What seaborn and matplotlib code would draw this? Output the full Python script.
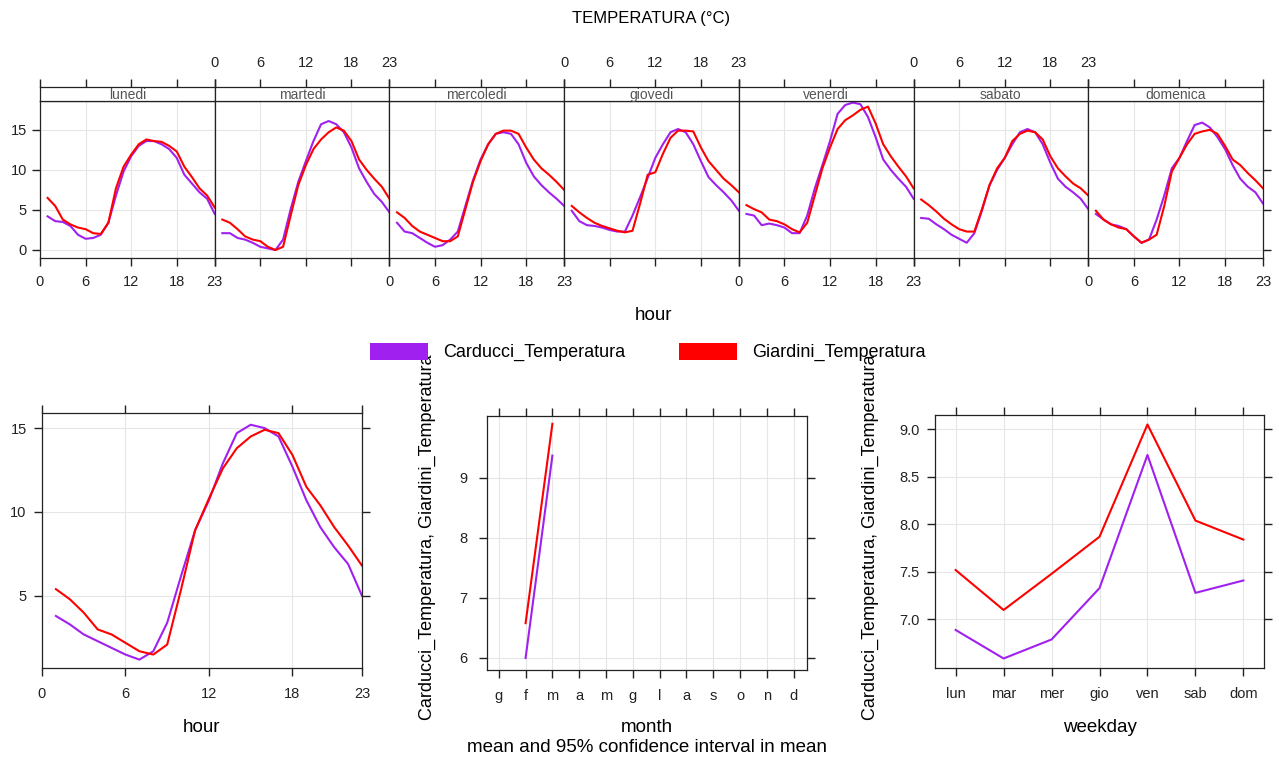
import matplotlib
matplotlib.use("Agg")
import numpy as np
import pandas as pd
import matplotlib.pyplot as plt
from matplotlib.patches import Patch
import seaborn as sns

# ---- data ----
hours = list(range(1, 24))
days = ["lunedi", "martedi", "mercoledi", "giovedi", "venerdi", "sabato", "domenica"]
sites = ["Carducci_Temperatura", "Giardini_Temperatura"]
site_colors = {"Carducci_Temperatura": "#A020F0", "Giardini_Temperatura": "#FF0000"}

carducci_day = {
    "lunedi":    [4.2, 3.6, 3.5, 3.0, 1.9, 1.4, 1.5, 1.9, 3.4, 6.8, 9.8, 11.7, 13.0, 13.6, 13.6, 13.2, 12.6, 11.5, 9.4, 8.3, 7.2, 6.4, 4.5],
    "martedi":   [2.1, 2.1, 1.5, 1.3, 0.9, 0.4, 0.2, 0.0, 1.3, 5.1, 8.5, 11.1, 13.6, 15.7, 16.1, 15.7, 14.7, 12.8, 10.2, 8.5, 7.0, 6.0, 4.7],
    "mercoledi": [3.4, 2.3, 2.1, 1.5, 0.9, 0.4, 0.6, 1.3, 2.3, 5.5, 8.7, 11.3, 13.2, 14.5, 14.7, 14.5, 13.2, 10.9, 9.2, 8.1, 7.2, 6.4, 5.5],
    "giovedi":   [4.9, 3.6, 3.1, 3.0, 2.8, 2.5, 2.3, 2.3, 4.3, 6.6, 9.0, 11.5, 13.2, 14.7, 15.1, 14.7, 13.2, 11.1, 9.1, 8.1, 7.2, 6.2, 4.9],
    "venerdi":   [4.5, 4.3, 3.1, 3.3, 3.1, 2.8, 2.1, 2.1, 4.3, 7.7, 10.6, 13.6, 17.0, 18.1, 18.4, 18.2, 16.6, 14.1, 11.3, 10.0, 8.9, 7.9, 6.4],
    "sabato":    [4.0, 3.9, 3.2, 2.6, 1.9, 1.4, 0.9, 2.1, 4.9, 8.1, 10.0, 11.5, 13.2, 14.7, 15.1, 14.7, 13.2, 10.9, 8.9, 7.9, 7.2, 6.4, 5.1],
    "domenica":  [4.5, 3.8, 3.2, 3.0, 2.6, 1.7, 0.9, 1.3, 3.8, 6.8, 10.2, 11.5, 13.6, 15.6, 15.9, 15.3, 14.1, 12.6, 10.6, 8.9, 7.9, 7.2, 5.8],
}
giardini_day = {
    "lunedi":    [6.5, 5.5, 3.8, 3.2, 2.8, 2.6, 2.1, 2.0, 3.4, 7.7, 10.4, 11.9, 13.2, 13.8, 13.6, 13.5, 13.0, 12.3, 10.4, 9.1, 7.7, 6.8, 5.3],
    "martedi":   [3.8, 3.4, 2.6, 1.7, 1.3, 1.1, 0.4, 0.0, 0.4, 4.3, 8.1, 10.6, 12.6, 13.8, 14.7, 15.3, 14.9, 13.6, 11.3, 10.0, 8.9, 7.9, 6.4],
    "mercoledi": [4.7, 4.0, 3.0, 2.3, 1.9, 1.5, 1.1, 1.1, 1.7, 5.1, 8.5, 11.1, 13.2, 14.5, 14.9, 14.9, 14.5, 12.8, 11.3, 10.2, 9.4, 8.5, 7.5],
    "giovedi":   [5.5, 4.7, 4.0, 3.4, 3.0, 2.7, 2.4, 2.2, 2.4, 5.8, 9.4, 9.7, 12.0, 14.0, 14.9, 14.9, 14.8, 12.8, 11.1, 10.0, 8.9, 8.1, 7.2],
    "venerdi":   [5.6, 5.1, 4.7, 3.8, 3.6, 3.2, 2.6, 2.2, 3.4, 6.8, 10.2, 12.8, 15.1, 16.2, 16.8, 17.5, 17.9, 15.8, 13.2, 11.7, 10.4, 9.2, 7.7],
    "sabato":    [6.3, 5.6, 4.8, 3.9, 3.2, 2.6, 2.3, 2.3, 5.1, 8.1, 10.2, 11.5, 13.6, 14.5, 14.9, 14.7, 13.8, 11.7, 10.2, 9.2, 8.3, 7.7, 6.8],
    "domenica":  [4.9, 3.8, 3.2, 2.8, 2.6, 1.7, 0.9, 1.3, 1.9, 5.5, 9.8, 11.5, 13.2, 14.5, 14.8, 15.0, 14.5, 13.0, 11.3, 10.6, 9.6, 8.7, 7.7],
}

carducci_hour = [3.8, 3.3, 2.7, 2.3, 1.9, 1.5, 1.2, 1.7, 3.4, 6.2, 8.9, 10.7, 12.9, 14.7, 15.2, 15.0, 14.5, 12.7, 10.7, 9.1, 7.9, 6.9, 5.0]
giardini_hour = [5.4, 4.8, 4.0, 3.0, 2.7, 2.2, 1.7, 1.5, 2.1, 5.4, 8.9, 10.8, 12.6, 13.8, 14.5, 14.9, 14.7, 13.4, 11.5, 10.4, 9.1, 8.0, 6.8]

month_labels = ["g", "f", "m", "a", "m", "g", "l", "a", "s", "o", "n", "d"]
month_index = [1, 2]  # only febbraio and marzo have data
carducci_month = [6.0, 9.37]
giardini_month = [6.58, 9.9]

weekday_labels = ["lun", "mar", "mer", "gio", "ven", "sab", "dom"]
carducci_wday = [6.89, 6.59, 6.79, 7.33, 8.73, 7.28, 7.41]
giardini_wday = [7.52, 7.10, 7.48, 7.87, 9.05, 8.04, 7.84]

# ---- tidy tables ----
rows = []
for d in days:
    for site, src in zip(sites, [carducci_day, giardini_day]):
        for h, v in zip(hours, src[d]):
            rows.append({"day": d, "site": site, "hour": h, "value": v})
week_df = pd.DataFrame(rows)

hour_df = pd.DataFrame({
    "hour": hours * 2,
    "site": [sites[0]] * len(hours) + [sites[1]] * len(hours),
    "value": carducci_hour + giardini_hour,
})
month_df = pd.DataFrame({
    "month": month_index * 2,
    "site": [sites[0]] * 2 + [sites[1]] * 2,
    "value": carducci_month + giardini_month,
})
wday_df = pd.DataFrame({
    "weekday": list(range(7)) * 2,
    "site": [sites[0]] * 7 + [sites[1]] * 7,
    "value": carducci_wday + giardini_wday,
})

# ---- style (plain matplotlib rc, lattice-like) ----
plt.rcParams.update({
    "font.family": ["Liberation Sans", "DejaVu Sans"],
    "axes.edgecolor": "#222222",
    "axes.linewidth": 0.9,
    "axes.facecolor": "white",
    "xtick.bottom": True,
    "ytick.left": True,
    "xtick.top": True,
    "ytick.right": True,
    "xtick.direction": "out",
    "ytick.direction": "out",
    "xtick.major.size": 6,
    "ytick.major.size": 6,
    "xtick.major.width": 1.0,
    "ytick.major.width": 1.0,
    "xtick.color": "#222222",
    "ytick.color": "#222222",
    "xtick.labelsize": 10.5,
    "ytick.labelsize": 10.5,
})

W, H = 1279, 764
fig = plt.figure(figsize=(W / 100, H / 100), dpi=100)
grid_col = "#E6E6E6"
lab_fs = 13.5
lw = 1.5


def px_axes(x0, y0, x1, y1):
    return fig.add_axes([x0 / W, 1 - y1 / H, (x1 - x0) / W, (y1 - y0) / H])


def finish_panel(ax, xpad=8, ypad=5):
    # lattice style: ticks on all four sides, labels only bottom/left
    ax.grid(True, color=grid_col, lw=0.8)
    ax.set_axisbelow(True)
    ax.set_xlabel("")
    ax.set_ylabel("")
    ax.tick_params(labeltop=False, labelright=False)
    ax.tick_params(axis="x", pad=xpad)
    ax.tick_params(axis="y", pad=ypad)


# ---- top: hour by weekday ----
px0, pw = 40, (1263 - 40) / 7
hour_ticks = [0, 6, 12, 18, 23]
for i, d in enumerate(days):
    x0 = px0 + i * pw
    ax = px_axes(x0, 101, x0 + pw, 258)
    sns.lineplot(data=week_df[week_df["day"] == d], x="hour", y="value", hue="site",
                 palette=site_colors, ax=ax, legend=False, errorbar=None, lw=lw)
    ax.set_xlim(0, 23)
    ax.set_ylim(-1, 18.6)
    ax.set_xticks(hour_ticks)
    ax.set_yticks([0, 5, 10, 15])
    ax.grid(True, color=grid_col, lw=0.8)
    ax.set_axisbelow(True)
    ax.set_xlabel("")
    ax.set_ylabel("")
    ax.tick_params(top=False, left=(i == 0), right=(i == 6),
                   labelbottom=(i % 2 == 0), labelleft=(i == 0), labelright=False)
    ax.tick_params(axis="x", pad=6)
    ax.tick_params(axis="y", pad=3.5)

    strip = px_axes(x0, 87, x0 + pw, 101)
    strip.set_xlim(0, 23)
    strip.set_xticks(hour_ticks)
    strip.set_yticks([])
    strip.tick_params(bottom=False, top=True, labelbottom=False,
                      labeltop=(i % 2 == 1), pad=6)
    strip.text(0.5, 0.42, d, transform=strip.transAxes, ha="center", va="center",
               fontsize=10, color="#555555")

fig.text(651 / W, 1 - 18 / H, "TEMPERATURA (°C)", ha="center", va="center", fontsize=12)
fig.text(653 / W, 1 - 315 / H, "hour", ha="center", va="center", fontsize=lab_fs)

# legend
handles = [Patch(facecolor=site_colors[s], edgecolor="none") for s in sites]
fig.legend(handles, sites, loc="center", bbox_to_anchor=(648 / W, 1 - 352 / H), ncol=2,
           frameon=False, fontsize=13, handlelength=3.2, handleheight=1.1,
           handletextpad=0.85, columnspacing=3.0)

# ---- bottom left: hour ----
ax = px_axes(42, 413, 362, 668)
sns.lineplot(data=hour_df, x="hour", y="value", hue="site", palette=site_colors,
             ax=ax, legend=False, errorbar=None, lw=lw)
ax.set_xlim(0, 23)
ax.set_ylim(0.7, 15.9)
ax.set_xticks(hour_ticks)
ax.set_yticks([5, 10, 15])
finish_panel(ax, xpad=8, ypad=5)
fig.text(202 / W, 1 - 727 / H, "hour", ha="center", va="center", fontsize=lab_fs)

# ---- bottom middle: month ----
ax = px_axes(487, 416, 807, 670)
sns.lineplot(data=month_df, x="month", y="value", hue="site", palette=site_colors,
             ax=ax, legend=False, errorbar=None, lw=lw)
ax.set_xlim(-0.44, 11.5)
ax.set_ylim(5.8, 10.03)
ax.set_xticks(range(12))
ax.set_xticklabels(month_labels)
ax.set_yticks([6, 7, 8, 9])
finish_panel(ax, xpad=8, ypad=8)
fig.text(647 / W, 1 - 727 / H, "month", ha="center", va="center", fontsize=lab_fs)
fig.text(647 / W, 1 - 748 / H, "mean and 95% confidence interval in mean",
         ha="center", va="center", fontsize=lab_fs)
fig.text(427 / W, 1 - 537 / H, "Carducci_Temperatura, Giardini_Temperatura",
         rotation=90, ha="center", va="center", fontsize=13)

# ---- bottom right: weekday ----
ax = px_axes(935, 415, 1264, 668)
sns.lineplot(data=wday_df, x="weekday", y="value", hue="site", palette=site_colors,
             ax=ax, legend=False, errorbar=None, lw=lw)
ax.set_xlim(-0.43, 6.43)
ax.set_ylim(6.49, 9.15)
ax.set_xticks(range(7))
ax.set_xticklabels(weekday_labels)
ax.set_yticks([7.0, 7.5, 8.0, 8.5, 9.0])
ax.set_yticklabels(["7.0", "7.5", "8.0", "8.5", "9.0"])
finish_panel(ax, xpad=8, ypad=5)
fig.text(1100 / W, 1 - 727 / H, "weekday", ha="center", va="center", fontsize=lab_fs)
fig.text(870 / W, 1 - 537 / H, "Carducci_Temperatura, Giardini_Temperatura",
         rotation=90, ha="center", va="center", fontsize=13)

fig.savefig("out.png", dpi=100)
